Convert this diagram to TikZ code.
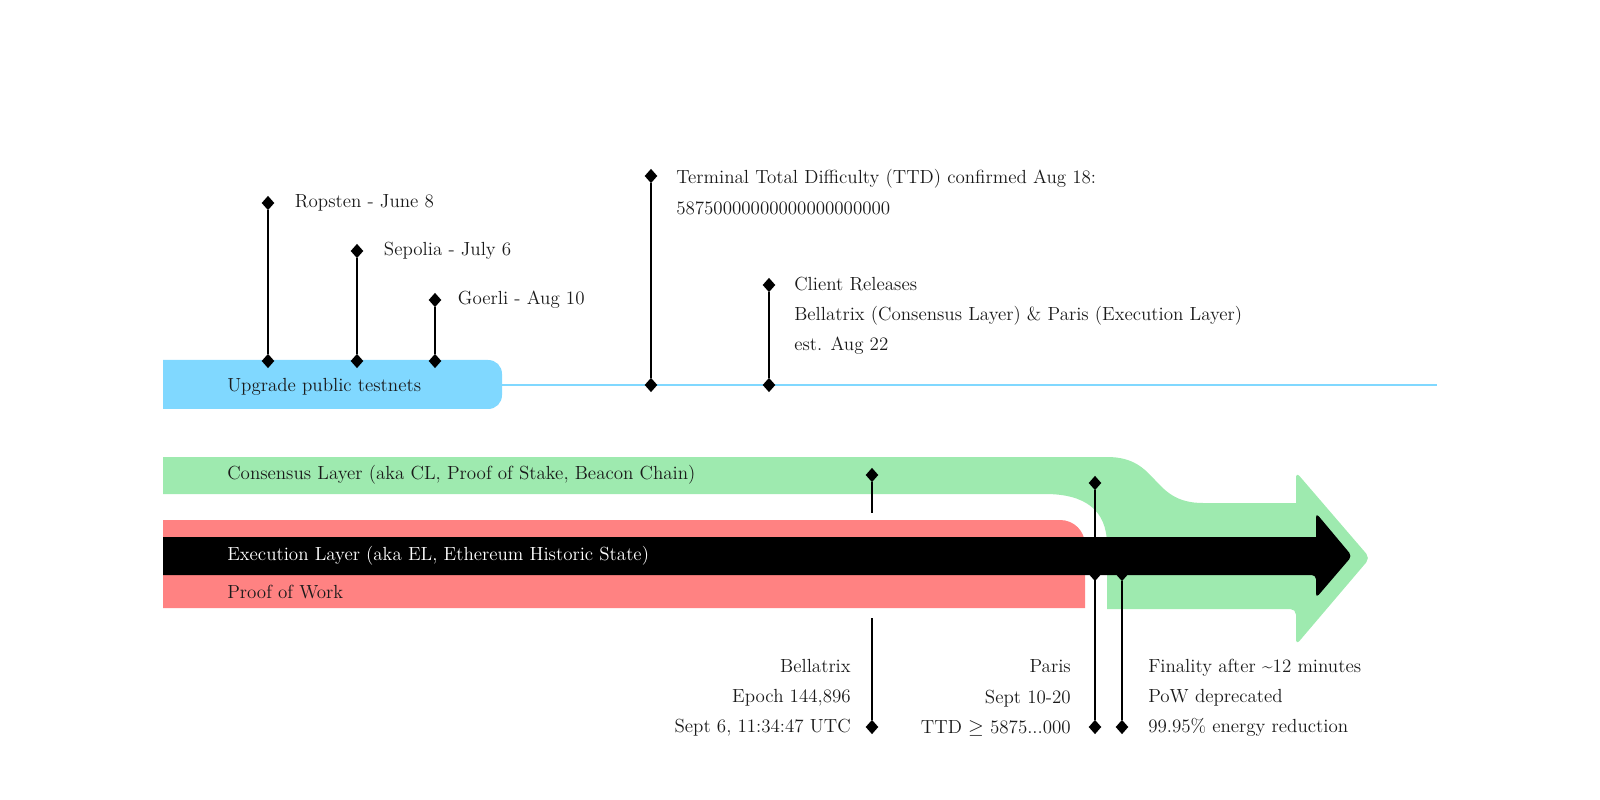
\documentclass[tikz,border=0pt]{standalone}
\usepackage{tikz}
\usetikzlibrary{arrows.meta,positioning,shapes.geometric}
\definecolor{netblue}{HTML}{80D8FF}
\definecolor{clgreen}{HTML}{9EEAAF}
\definecolor{powred}{HTML}{FF8282}
\definecolor{textgray}{HTML}{1A1A1A}

\begin{document}
\begin{tikzpicture}[x=0.025cm,y=-0.025cm,
 dmd/.style={diamond,fill=black,inner sep=0pt,minimum width=0.32cm,minimum height=0.36cm},
 stem/.style={line width=1.9pt,black},
 lbl/.style={inner sep=0pt,text=textgray,font=\fontsize{13.5}{21.5}\selectfont},
 band/.style={inner sep=0pt,anchor=west,font=\fontsize{13.5}{15}\selectfont}]
\useasboundingbox (0,0) rectangle (1600,800);

\fill[netblue] (163,409) -- (163,360) -- (488,360) .. controls (496,360) and (502,366) .. (502,374) -- (502,395) .. controls (502,403) and (496,409) .. (488,409) -- cycle;
\draw[netblue,line width=1.5pt] (502,385) -- (1437,385);

\fill[clgreen] (163,457) -- (1107,457) .. controls (1160,457) and (1150,503) .. (1203,503) -- (1296,503) [rounded corners=4pt] -- (1296,472) -- (1370,558) -- (1296,645) -- (1296,609) [sharp corners] -- (1107,609) -- (1107,545) .. controls (1107,510) and (1085,494) .. (1045,494) -- (163,494) -- cycle;
\fill[powred] (163,608) -- (163,520) -- (1060,520) .. controls (1074,520) and (1085,531) .. (1085,545) -- (1085,608) -- cycle;

\node[dmd] (par2) at (1095,574) {};
\node[dmd] (fin1) at (1122,574) {};
\fill[black] (163,537) -- (1316,537) [rounded corners=3pt] -- (1316,513) -- (1352,556) -- (1316,598) -- (1316,575) [sharp corners] -- (163,575) -- cycle;

\node[band,text=textgray] (up) at (227,387) {Upgrade public testnets};
\node[band,text=textgray] (cl) at (227,475) {Consensus Layer (aka CL, Proof of Stake, Beacon Chain)};
\node[band,text=white] (el) at (227,556) {Execution Layer (aka EL, Ethereum Historic State)};
\node[band,text=textgray] (pow) at (227,592) {Proof of Work};

\node[dmd] (rop1) at (268,203) {};
\node[dmd] (rop2) at (268,361) {};
\draw[stem] (rop1) -- (rop2);
\node[lbl,right=0.5cm of rop1] (ropt) {Ropsten - June 8};

\node[dmd] (sep1) at (357,251) {};
\node[dmd] (sep2) at (357,361) {};
\draw[stem] (sep1) -- (sep2);
\node[lbl,right=0.5cm of sep1] (sept) {Sepolia - July 6};

\node[dmd] (goe1) at (435,300) {};
\node[dmd] (goe2) at (435,361) {};
\draw[stem] (goe1) -- (goe2);
\node[lbl,right=0.4cm of goe1] (goet) {Goerli - Aug 10};

\node[dmd] (ttd1) at (651,176) {};
\node[dmd] (ttd2) at (651,385) {};
\draw[stem] (ttd1) -- (ttd2);
\node[lbl,align=left,anchor=west] (ttdt) at (676,192) {Terminal Total Difficulty (TTD) confirmed Aug 18:\\58750000000000000000000};

\node[dmd] (cli1) at (769,285) {};
\node[dmd] (cli2) at (769,385) {};
\draw[stem] (cli1) -- (cli2);
\node[lbl,align=left,anchor=west] (clit) at (794,316) {Client Releases\\Bellatrix (Consensus Layer) \& Paris (Execution Layer)\\est. Aug 22};

\node[dmd] (bel1) at (872,475) {};
\coordinate (bel2) at (872,513);
\coordinate (bel3) at (872,618);
\node[dmd] (bel4) at (872,727) {};
\draw[stem] (bel1) -- (bel2);
\draw[stem] (bel3) -- (bel4);
\node[lbl,align=right,anchor=east] (belt) at (851,698) {Bellatrix\\Epoch 144,896\\Sept 6, 11:34:47 UTC};

\node[dmd] (par1) at (1095,483) {};
\node[dmd] (par3) at (1095,727) {};
\draw[stem] (par1) -- (par3);
\node[lbl,align=right,anchor=east] (part) at (1071,698) {Paris\\Sept 10-20\\TTD $\geq$ 5875...000};

\node[dmd] (fin2) at (1122,727) {};
\draw[stem] (fin1) -- (fin2);
\node[lbl,align=left,anchor=west] (fint) at (1148,698) {Finality after \textasciitilde12 minutes\\PoW deprecated\\99.95\% energy reduction};
\end{tikzpicture}
\end{document}
